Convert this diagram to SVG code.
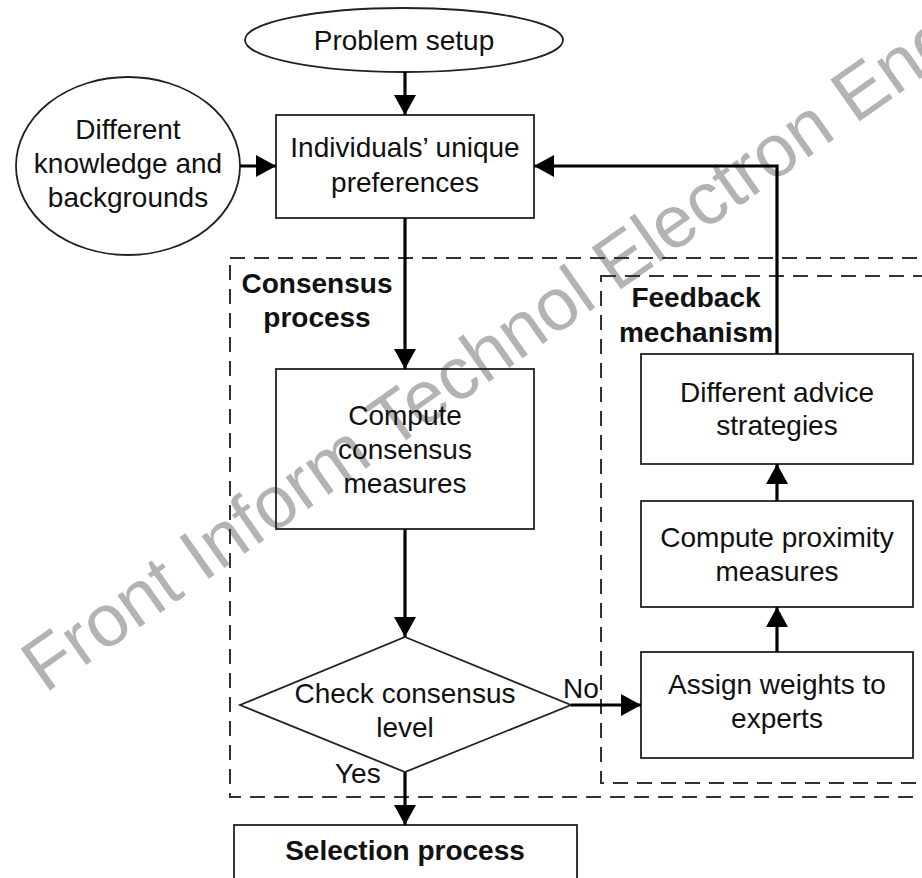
<svg xmlns="http://www.w3.org/2000/svg" width="922" height="878" viewBox="0 0 922 878">
<style>
text{font-family:"Liberation Sans",Arial,sans-serif;font-size:28px;fill:#111;text-anchor:middle}
.b{font-weight:bold}
.l{text-anchor:start}
.box{fill:none;stroke:#222;stroke-width:1.8}
.dash{fill:none;stroke:#333;stroke-width:2;stroke-dasharray:15 9}
.con{fill:none;stroke:#000;stroke-width:3.2;marker-end:url(#ah)}
.wm{fill:#b3b3b3;font-size:74px;text-anchor:start}
</style>
<defs>
<marker id="ah" markerUnits="userSpaceOnUse" markerWidth="22" markerHeight="22" refX="20" refY="11" orient="auto">
<path d="M0,0 L20,11 L0,22 z" fill="#000"/>
</marker>
</defs>
<rect width="922" height="878" fill="#fff"/>
<text class="wm" transform="translate(45,694) rotate(-35.1)">Front Inform Technol Electron Eng</text>
<g id="consensus-process">
<rect class="dash" x="230" y="258" width="720" height="539"/>
<text class="b" x="317" y="293">Consensus</text>
<text class="b" x="317" y="327">process</text>
</g>
<g id="feedback-mechanism">
<rect class="dash" x="601" y="276" width="360" height="507"/>
<text class="b" x="696" y="307">Feedback</text>
<text class="b" x="696" y="342">mechanism</text>
</g>
<g id="problem-setup">
<ellipse class="box" cx="404" cy="40" rx="159" ry="32"/>
<text x="404" y="50">Problem setup</text>
</g>
<g id="different-knowledge">
<ellipse class="box" cx="128" cy="166" rx="112" ry="89"/>
<text x="128" y="139">Different</text>
<text x="128" y="173">knowledge and</text>
<text x="128" y="207">backgrounds</text>
</g>
<g id="individuals-preferences">
<rect class="box" x="276" y="115" width="258" height="103"/>
<text x="405" y="157">Individuals’ unique</text>
<text x="405" y="192">preferences</text>
</g>
<g id="compute-consensus">
<rect class="box" x="276" y="369" width="258" height="160"/>
<text x="405" y="425">Compute</text>
<text x="405" y="459">consensus</text>
<text x="405" y="493">measures</text>
</g>
<g id="check-consensus">
<polygon class="box" points="405,637 571,705 405,772 240,705"/>
<text x="405" y="703">Check consensus</text>
<text x="405" y="737">level</text>
</g>
<g id="different-advice">
<rect class="box" x="641" y="354" width="272" height="110"/>
<text x="777" y="402">Different advice</text>
<text x="777" y="435">strategies</text>
</g>
<g id="compute-proximity">
<rect class="box" x="641" y="501" width="272" height="106"/>
<text x="777" y="547">Compute proximity</text>
<text x="777" y="581">measures</text>
</g>
<g id="assign-weights">
<rect class="box" x="641" y="652" width="272" height="106"/>
<text x="777" y="694">Assign weights to</text>
<text x="777" y="728">experts</text>
</g>
<g id="selection-process">
<rect class="box" x="234" y="825" width="343" height="70"/>
<text class="b" x="405" y="860">Selection process</text>
</g>
<g id="connectors">
<line class="con" x1="405" y1="72" x2="405" y2="115"/>
<line class="con" x1="240" y1="166" x2="276" y2="166"/>
<line class="con" x1="405" y1="218" x2="405" y2="369"/>
<line class="con" x1="405" y1="529" x2="405" y2="637"/>
<line class="con" x1="571" y1="705" x2="641" y2="705"/>
<line class="con" x1="777" y1="652" x2="777" y2="607"/>
<line class="con" x1="777" y1="501" x2="777" y2="464"/>
<polyline class="con" points="777,354 777,166 534,166"/>
<line class="con" x1="405" y1="772" x2="405" y2="825"/>
<text class="l" x="563" y="698">No</text>
<text class="l" x="335" y="783">Yes</text>
</g>
</svg>
